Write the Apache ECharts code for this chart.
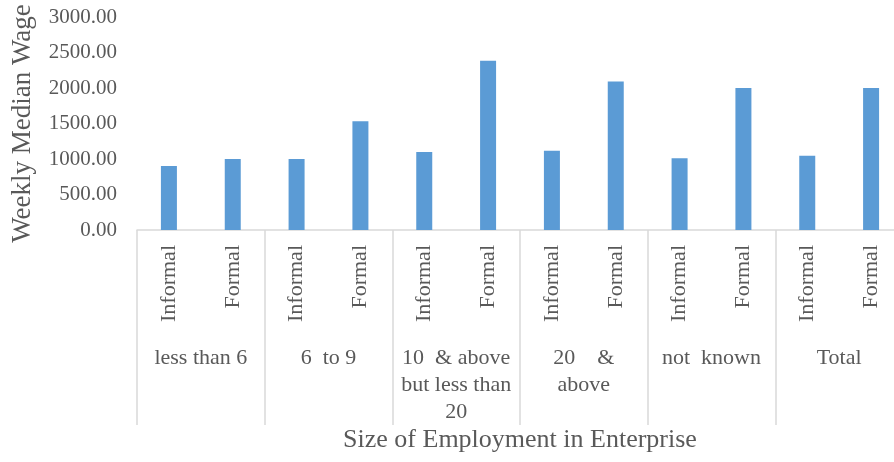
<!DOCTYPE html>
<html>
<head>
<meta charset="utf-8">
<script src="https://cdn.jsdelivr.net/npm/echarts@6/dist/echarts.min.js"></script>
<style>html,body{margin:0;padding:0;background:#fff}#c{width:894px;height:462px}</style>
</head>
<body>
<div id="c"></div>
<script>
const groups = ['less than 6', '6  to 9', '10  & above\nbut less than\n20', '20    &\nabove', 'not  known', 'Total'];
const subLabels = ['Informal', 'Formal', 'Informal', 'Formal', 'Informal', 'Formal', 'Informal', 'Formal', 'Informal', 'Formal', 'Informal', 'Formal'];
const wages = [900, 1000, 1000, 1530, 1100, 2385, 1115, 2090, 1010, 2000, 1045, 2000];
const yTicks = [0, 500, 1000, 1500, 2000, 2500, 3000];

const FONT = 'Liberation Serif';
const TXT = '#595959';
const LINE = '#d9d9d9';

const chart = echarts.init(document.getElementById('c'), null, {renderer: 'canvas'});
chart.setOption({
  animation: false,
  backgroundColor: '#fff',
  grid: {left: 137, top: 17, width: 766, height: 213, containLabel: false, outerBoundsMode: 'none'},
  xAxis: [
    {
      type: 'category',
      data: subLabels,
      position: 'bottom',
      axisLine: {show: true, lineStyle: {color: LINE, width: 1.5}},
      axisTick: {show: false},
      axisLabel: {rotate: 90, interval: 0, margin: 15, color: TXT, fontFamily: FONT, fontSize: 22},
      name: 'Size of Employment in Enterprise',
      nameLocation: 'middle',
      nameGap: 197,
      nameTextStyle: {color: TXT, fontFamily: FONT, fontSize: 26}
    },
    {
      type: 'category',
      data: groups,
      position: 'bottom',
      axisLine: {show: false},
      axisTick: {show: true, length: 195, interval: 0, lineStyle: {color: LINE, width: 1.5}},
      axisLabel: {interval: 0, margin: 115, color: TXT, fontFamily: FONT, fontSize: 22, lineHeight: 27, align: 'center'}
    }
  ],
  yAxis: {
    type: 'value',
    min: yTicks[0],
    max: yTicks[yTicks.length - 1],
    interval: 500,
    axisLine: {show: false},
    axisTick: {show: false},
    splitLine: {show: false},
    axisLabel: {margin: 20, color: TXT, fontFamily: FONT, fontSize: 21, formatter: v => v.toFixed(2)},
    name: 'Weekly Median Wage',
    nameLocation: 'middle',
    nameGap: 101,
    nameTextStyle: {color: TXT, fontFamily: FONT, fontSize: 27}
  },
  series: [{
    type: 'bar',
    xAxisIndex: 0,
    data: wages,
    barWidth: 16,
    itemStyle: {color: '#5b9bd5'}
  }]
});
</script>
</body>
</html>
